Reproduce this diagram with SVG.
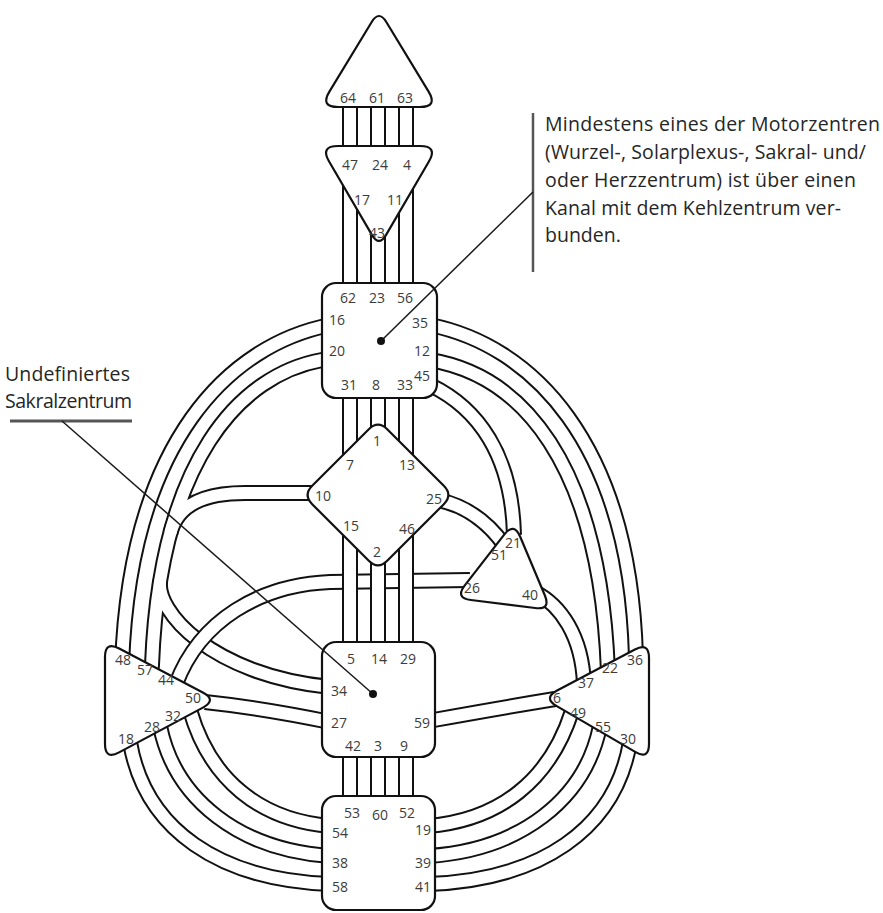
<svg xmlns="http://www.w3.org/2000/svg" xmlns:xlink="http://www.w3.org/1999/xlink" width="883" height="913" viewBox="0 0 883 913">
<style>
.o{fill:none;stroke:#111;stroke-width:16}
.i{fill:none;stroke:#fff;stroke-width:12}
.node{fill:#fff;stroke:#111;stroke-width:2.2;stroke-linejoin:round}
.n{font-family:"Open Sans","Liberation Sans",sans-serif;font-size:14px;fill:#3c3c3c;text-anchor:middle}
.t{font-family:"Open Sans","Liberation Sans",sans-serif;font-size:19.5px;fill:#262626}
.lead{stroke:#1a1a1a;stroke-width:1.5;fill:none}
.bar{stroke:#555;fill:none}
</style>
<defs>
<path id="c64-47" d="M350,100 V155"/>
<path id="c61-24" d="M378,100 V155"/>
<path id="c63-4" d="M406,100 V155"/>
<path id="c17-62" d="M350,170 V292"/>
<path id="c43-23" d="M378,200 V292"/>
<path id="c11-56" d="M406,170 V292"/>
<path id="c31-7" d="M350,390 V470"/>
<path id="c8-1" d="M378,390 V440"/>
<path id="c33-13" d="M406,390 V470"/>
<path id="c15-5" d="M350,530 V650"/>
<path id="c2-14" d="M378,555 V650"/>
<path id="c46-29" d="M406,530 V650"/>
<path id="c42-53" d="M350,750 V805"/>
<path id="c3-60" d="M378,750 V805"/>
<path id="c9-52" d="M406,750 V805"/>
<path id="c20-57" d="M332,358 L322,360 C240,375 160,460 152,665 L150.5,678"/>
<path id="c10" d="M325,493 L245,493 C205,493 178,504 170.4,532.9"/>
<path id="c34" d="M160.2,580.7 C155.4,610.4 210,675 330,687"/>
<path id="c16-48" d="M330,325 C230,345 130,440 122,665"/>
<path id="c26-44" d="M470,580 L330,582 C260,585 200,620 176,684"/>
<path id="c35-36" d="M430,325 C530,345 630,440 636,657"/>
<path id="c12-22" d="M430,360 C520,375 600,460 608,672"/>
<path id="c45-21" d="M430,385 C478,408 512,455 514,535"/>
<path id="c25-51" d="M438,500 Q478,508 505,546"/>
<path id="c40-37" d="M535,592 C560,605 582,635 584,684"/>
<path id="c6-59" d="M555,699 Q500,708 428,721"/>
<path id="c27-50" d="M205,702 Q262,708 330,722"/>
<path id="c32-54" d="M190,710 C210,780 260,820 330,826"/>
<path id="c28-38" d="M160,726 C175,800 240,850 330,856"/>
<path id="c18-58" d="M130,742 C145,830 220,880 330,884"/>
<path id="c49-19" d="M572,711 C550,780 500,820 428,826"/>
<path id="c55-39" d="M600,726 C585,800 520,850 428,856"/>
<path id="c30-41" d="M630,742 C615,830 540,880 428,884"/>
</defs>

<g id="connectors">
<g id="integration">
<use href="#c20-57" class="o"/><use href="#c10" class="o"/><use href="#c34" class="o"/>
<use href="#c20-57" class="i"/><use href="#c10" class="i"/><use href="#c34" class="i"/>
</g>
<use href="#c16-48" class="o"/><use href="#c16-48" class="i"/>
<use href="#c26-44" class="o"/><use href="#c26-44" class="i"/>
<use href="#c64-47" class="o"/><use href="#c64-47" class="i"/>
<use href="#c61-24" class="o"/><use href="#c61-24" class="i"/>
<use href="#c63-4" class="o"/><use href="#c63-4" class="i"/>
<use href="#c17-62" class="o"/><use href="#c17-62" class="i"/>
<use href="#c43-23" class="o"/><use href="#c43-23" class="i"/>
<use href="#c11-56" class="o"/><use href="#c11-56" class="i"/>
<use href="#c31-7" class="o"/><use href="#c31-7" class="i"/>
<use href="#c8-1" class="o"/><use href="#c8-1" class="i"/>
<use href="#c33-13" class="o"/><use href="#c33-13" class="i"/>
<use href="#c15-5" class="o"/><use href="#c15-5" class="i"/>
<use href="#c2-14" class="o"/><use href="#c2-14" class="i"/>
<use href="#c46-29" class="o"/><use href="#c46-29" class="i"/>
<use href="#c42-53" class="o"/><use href="#c42-53" class="i"/>
<use href="#c3-60" class="o"/><use href="#c3-60" class="i"/>
<use href="#c9-52" class="o"/><use href="#c9-52" class="i"/>
<use href="#c35-36" class="o"/><use href="#c35-36" class="i"/>
<use href="#c12-22" class="o"/><use href="#c12-22" class="i"/>
<use href="#c45-21" class="o"/><use href="#c45-21" class="i"/>
<use href="#c25-51" class="o"/><use href="#c25-51" class="i"/>
<use href="#c40-37" class="o"/><use href="#c40-37" class="i"/>
<use href="#c6-59" class="o"/><use href="#c6-59" class="i"/>
<use href="#c27-50" class="o"/><use href="#c27-50" class="i"/>
<use href="#c32-54" class="o"/><use href="#c32-54" class="i"/>
<use href="#c28-38" class="o"/><use href="#c28-38" class="i"/>
<use href="#c18-58" class="o"/><use href="#c18-58" class="i"/>
<use href="#c49-19" class="o"/><use href="#c49-19" class="i"/>
<use href="#c55-39" class="o"/><use href="#c55-39" class="i"/>
<use href="#c30-41" class="o"/><use href="#c30-41" class="i"/>
</g>

<g id="head">
<path class="node" d="M371.7,22 Q379,10 386.3,22 L428.6,91.6 Q438,107 420,107 L338,107 Q320,107 329.4,91.6 Z"/>
<text class="n" x="348" y="103">64</text><text class="n" x="377" y="103">61</text><text class="n" x="405" y="103">63</text>
</g>
<g id="ajna">
<path class="node" d="M338,146 L420,146 Q438,146 428.9,161.5 L386.1,234.9 Q379,247 371.9,234.9 L329.1,161.5 Q320,146 338,146 Z"/>
<text class="n" x="350" y="170">47</text><text class="n" x="380" y="170">24</text><text class="n" x="407" y="170">4</text>
<text class="n" x="362" y="205">17</text><text class="n" x="395" y="205">11</text><text class="n" x="377" y="238">43</text>
</g>
<g id="throat">
<rect class="node" x="322" y="283" width="115" height="115" rx="14"/>
<text class="n" x="348" y="303">62</text><text class="n" x="377" y="303">23</text><text class="n" x="405" y="303">56</text>
<text class="n" x="337" y="325">16</text><text class="n" x="420" y="328">35</text>
<text class="n" x="337" y="356">20</text><text class="n" x="422" y="356">12</text>
<text class="n" x="349" y="390">31</text><text class="n" x="376" y="390">8</text><text class="n" x="405" y="390">33</text><text class="n" x="422" y="381">45</text>
</g>
<g id="g-center">
<path class="node" d="M368.8,429.2 Q378,420 387.2,429.2 L443.8,485.8 Q453,495 443.8,504.2 L387.2,560.8 Q378,570 368.8,560.8 L312.2,504.2 Q303,495 312.2,485.8 Z"/>
<text class="n" x="377" y="446">1</text><text class="n" x="350" y="470">7</text><text class="n" x="407" y="470">13</text>
<text class="n" x="323" y="501">10</text><text class="n" x="434" y="504">25</text>
<text class="n" x="351" y="531">15</text><text class="n" x="407" y="534">46</text><text class="n" x="377" y="557">2</text>
</g>
<g id="ego">
<path class="node" d="M504.2,534.6 Q514,522 520.2,536.7 L544.8,595.3 Q551,610 535.1,608 L470.9,600 Q455,598 464.8,585.4 Z"/>
<text class="n" x="513" y="548">21</text><text class="n" x="499" y="560">51</text><text class="n" x="472" y="593">26</text><text class="n" x="530" y="600">40</text>
</g>
<g id="solar-plexus">
<path class="node" d="M649,658 L649,744 Q649,760 635.2,751.9 L556.8,706.1 Q543,698 557.1,690.5 L634.9,649.5 Q649,642 649,658 Z"/>
<text class="n" x="635" y="665">36</text><text class="n" x="610" y="673">22</text><text class="n" x="586" y="688">37</text>
<text class="n" x="557" y="703">6</text><text class="n" x="578" y="718">49</text><text class="n" x="603" y="732">55</text><text class="n" x="628" y="744">30</text>
</g>
<g id="spleen">
<path class="node" d="M105,657 Q105,641 119.2,648.5 L202.8,692.5 Q217,700 202.9,707.6 L119.1,752.4 Q105,760 105,744 Z"/>
<text class="n" x="123" y="665">48</text><text class="n" x="145" y="675">57</text><text class="n" x="166" y="685">44</text>
<text class="n" x="193" y="703">50</text><text class="n" x="173" y="721">32</text><text class="n" x="152" y="732">28</text><text class="n" x="126" y="744">18</text>
</g>
<g id="sacral">
<rect class="node" x="322" y="642" width="113" height="115" rx="14"/>
<text class="n" x="351" y="664">5</text><text class="n" x="379" y="664">14</text><text class="n" x="408" y="664">29</text>
<text class="n" x="339" y="696">34</text><text class="n" x="339" y="728">27</text><text class="n" x="422" y="728">59</text>
<text class="n" x="353" y="751">42</text><text class="n" x="378" y="751">3</text><text class="n" x="404" y="751">9</text>
</g>
<g id="root">
<rect class="node" x="322" y="796" width="113" height="114" rx="14"/>
<text class="n" x="352" y="818">53</text><text class="n" x="380" y="820">60</text><text class="n" x="407" y="818">52</text>
<text class="n" x="340" y="838">54</text><text class="n" x="423" y="835">19</text>
<text class="n" x="340" y="868">38</text><text class="n" x="423" y="868">39</text>
<text class="n" x="340" y="892">58</text><text class="n" x="423" y="892">41</text>
</g>

<g id="annotations">
<line class="bar" x1="533" y1="113" x2="533" y2="272" stroke-width="2.5"/>
<line class="lead" x1="533" y1="192" x2="381" y2="341"/>
<circle cx="381" cy="341" r="4" fill="#111"/>
<text class="t" x="545" y="131" textLength="335" lengthAdjust="spacing">Mindestens eines der Motorzentren</text>
<text class="t" x="545" y="159" textLength="321" lengthAdjust="spacing">(Wurzel-, Solarplexus-, Sakral- und/</text>
<text class="t" x="545" y="187" textLength="311" lengthAdjust="spacing">oder Herzzentrum) ist über einen</text>
<text class="t" x="545" y="215" textLength="296" lengthAdjust="spacing">Kanal mit dem Kehlzentrum ver-</text>
<text class="t" x="545" y="242">bunden.</text>
<text class="t" x="5" y="381" textLength="125" lengthAdjust="spacing">Undefiniertes</text>
<text class="t" x="5" y="408" textLength="127" lengthAdjust="spacing">Sakralzentrum</text>
<line class="bar" x1="10" y1="421" x2="132" y2="421" stroke-width="3"/>
<line class="lead" x1="62" y1="421" x2="373" y2="694"/>
<circle cx="373" cy="694" r="4" fill="#111"/>
</g>
</svg>
